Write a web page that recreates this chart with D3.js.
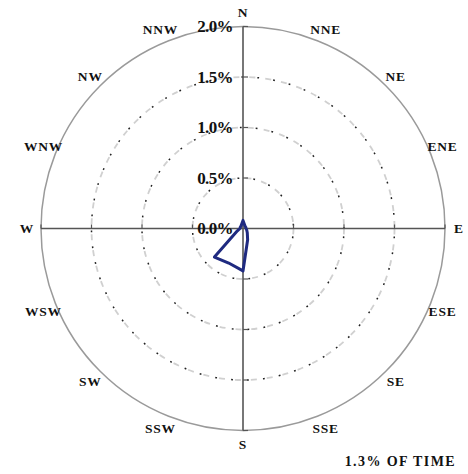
<!DOCTYPE html>
<html>
<head>
<meta charset="utf-8">
<script src="https://cdn.jsdelivr.net/npm/d3@7"></script>
<style>
  html, body { margin: 0; padding: 0; background: #fff; }
  svg { display: block; }
  text { font-family: "Liberation Serif", "DejaVu Serif", serif; font-weight: bold; fill: #111; }
</style>
</head>
<body>
<svg id="chart" width="468" height="474"></svg>
<script>
// Data
const directions = ["N","NNE","NE","ENE","E","ESE","SE","SSE","S","SSW","SW","WSW","W","WNW","NW","NNW"];
const frequency  = [0.08,0.04,0.03,0.03,0.03,0.04,0.06,0.12,0.42,0.37,0.40,0.06,0.03,0.03,0.03,0.04];
const ringValues = [0.5, 1.0, 1.5, 2.0];
const ringLabels = ["0.0%","0.5%","1.0%","1.5%","2.0%"];
const ringLabelValues = [0, 0.5, 1.0, 1.5, 2.0];
const footnote = "1.3% OF TIME";

const svg = d3.select("#chart");
const cx = 243, cy = 228.5, R = 202;

const r = d3.scaleLinear().domain([0, 2]).range([0, R]);
const ang = d3.scaleLinear().domain([0, directions.length]).range([0, 2 * Math.PI]);

const g = svg.append("g").attr("transform", `translate(${cx},${cy})`);

// Dotted rings (light dashes + dark dots to mimic scan)
const inner = ringValues.filter(v => v < 2);
g.selectAll("circle.ringL").data(inner).join("circle")
  .attr("r", d => r(d)).attr("fill", "none")
  .attr("stroke", "#d0d0d0").attr("stroke-width", 1.8)
  .attr("stroke-dasharray", "6 10");
g.selectAll("circle.ringD").data(inner).join("circle")
  .attr("r", d => r(d)).attr("fill", "none")
  .attr("stroke", "#222").attr("stroke-width", 1.5)
  .attr("stroke-dasharray", "1.8 14.2").attr("stroke-dashoffset", -8);

// Outer solid ring
g.append("circle").attr("r", r(2)).attr("fill", "none")
  .attr("stroke", "#9a9a9a").attr("stroke-width", 1.5);

// Axes
g.append("line").attr("x1", 0).attr("x2", 0).attr("y1", -r(2)).attr("y2", r(2))
  .attr("stroke", "#555").attr("stroke-width", 1.6);
g.append("line").attr("y1", 0).attr("y2", 0).attr("x1", -r(2)).attr("x2", r(2))
  .attr("stroke", "#555").attr("stroke-width", 1.6);

// Ticks on axes at ring radii
ringValues.forEach(v => {
  const d = r(v);
  g.append("line").attr("x1", 0).attr("x2", 5).attr("y1", -d).attr("y2", -d).attr("stroke", "#555").attr("stroke-width", 1.2);
  g.append("line").attr("x1", 0).attr("x2", 5).attr("y1", d).attr("y2", d).attr("stroke", "#555").attr("stroke-width", 1.2);
  g.append("line").attr("x1", d).attr("x2", d).attr("y1", -4).attr("y2", 0).attr("stroke", "#555").attr("stroke-width", 1.2);
  g.append("line").attr("x1", -d).attr("x2", -d).attr("y1", -4).attr("y2", 0).attr("stroke", "#555").attr("stroke-width", 1.2);
});

// Ring labels
g.selectAll("text.ringlab").data(ringLabelValues).join("text")
  .attr("x", -10).attr("y", d => -r(d))
  .attr("dy", "0.35em")
  .attr("text-anchor", "end")
  .style("font-size", "17px")
  .attr("letter-spacing", "-0.6")
  .text((d, i) => ringLabels[i]);

// Direction labels
const LR = 216;
g.selectAll("text.dir").data(directions).join("text")
  .attr("x", (d, i) => LR * Math.sin(ang(i)))
  .attr("y", (d, i) => -LR * Math.cos(ang(i)))
  .attr("dy", "0.36em")
  .attr("text-anchor", "middle")
  .style("font-size", "13.5px")
  .attr("letter-spacing", "0.8")
  .text(d => d);

// Data polygon
const line = d3.lineRadial()
  .angle((d, i) => ang(i))
  .radius(d => r(d))
  .curve(d3.curveLinearClosed);
g.append("path").datum(frequency)
  .attr("d", line)
  .attr("fill", "none")
  .attr("stroke", "#1f2a80")
  .attr("stroke-width", 3)
  .attr("stroke-linejoin", "round");

// Footnote
svg.append("text").attr("x", 456).attr("y", 466)
  .attr("text-anchor", "end")
  .style("font-size", "14px")
  .attr("letter-spacing", "1.4")
  .text(footnote);
</script>
</body>
</html>
